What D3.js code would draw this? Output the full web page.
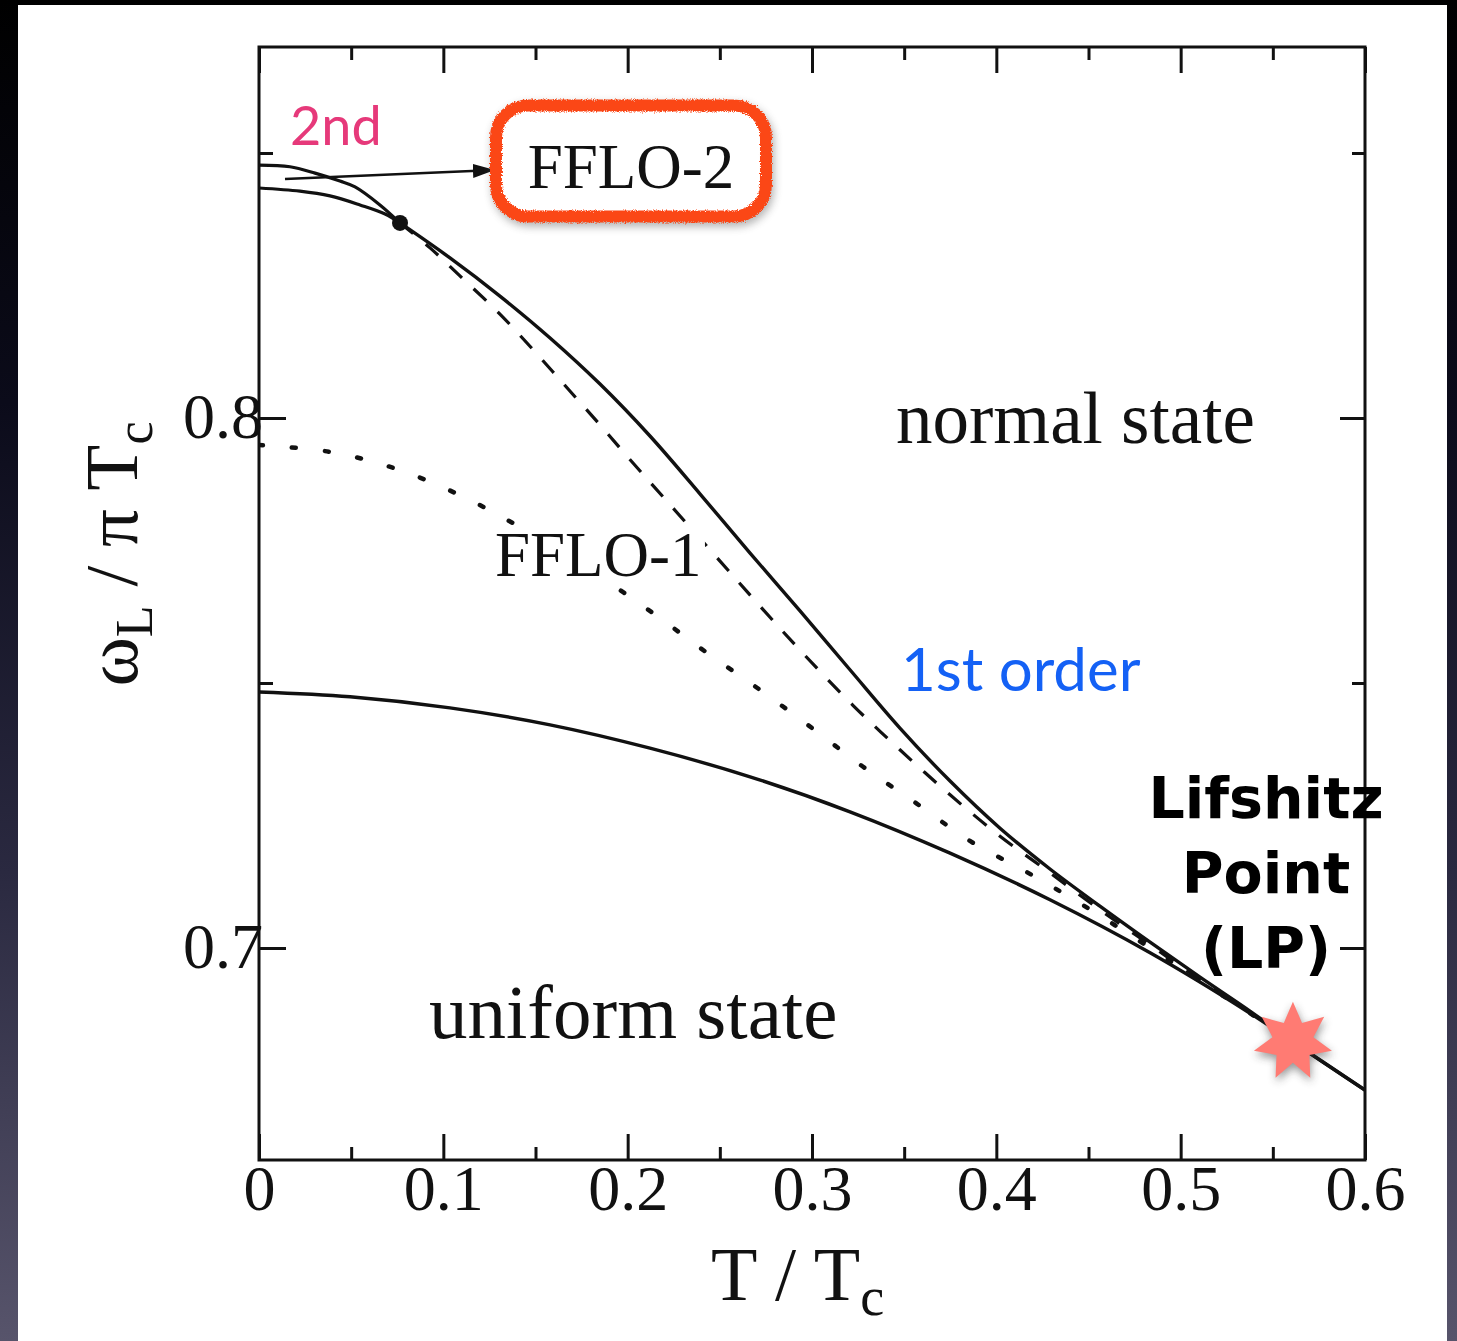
<!DOCTYPE html>
<html>
<head>
<meta charset="utf-8">
<script src="https://cdn.jsdelivr.net/npm/d3@7"></script>
<style>
  html, body { margin: 0; padding: 0; background: #000; overflow: hidden; }
  svg { display: block; }
</style>
</head>
<body>
<svg id="chart" width="1457" height="1341"></svg>
<script>
// ---- axes ----
const xDomain = [0, 0.6];
const yDomain = [0.66, 0.87];
const xTicksMajor = [0, 0.1, 0.2, 0.3, 0.4, 0.5, 0.6];
const xTickLabels = ["0", "0.1", "0.2", "0.3", "0.4", "0.5", "0.6"];
const xTicksMinor = [0.05, 0.15, 0.25, 0.35, 0.45, 0.55];
const yTicksMajor = [0.7, 0.8];
const yTickLabels = ["0.7", "0.8"];
const yTicksMinor = [0.75, 0.85];

// ---- phase boundaries, T/Tc vs omega_L / (pi Tc) ----
// FFLO-2 / normal (2nd order), from T = 0 to the multicritical dot
const ffloTwoUpperT = [0, 0.0168, 0.0304, 0.0439, 0.0521, 0.0656, 0.0765];
const ffloTwoUpperW = [0.8477, 0.8474, 0.8462, 0.8447, 0.8436, 0.8402, 0.8368];
// FFLO-2 / FFLO-1
const ffloTwoLowerT = [0, 0.0222, 0.0385, 0.0548, 0.0684, 0.0765];
const ffloTwoLowerW = [0.8434, 0.8428, 0.8419, 0.8402, 0.8385, 0.8368];
// FFLO-1 / normal (1st order), from the dot past the Lifshitz point
const firstOrderT = [0.0765, 0.1036, 0.1307, 0.1579, 0.1850, 0.2121, 0.2392, 0.2664, 0.2935, 0.3206,
                     0.3477, 0.3749, 0.4020, 0.4291, 0.4562, 0.4834, 0.5105, 0.5376, 0.5609, 0.6000];
const firstOrderW = [0.8368, 0.8302, 0.8230, 0.8151, 0.8064, 0.7966, 0.7857, 0.7745, 0.7636, 0.7525,
                     0.7415, 0.7315, 0.7226, 0.7149, 0.7079, 0.7011, 0.6945, 0.6881, 0.6823, 0.6732];
// dashed boundary
const dashedT = [0.0765, 0.0928, 0.1090, 0.1307, 0.1497, 0.1671, 0.1850, 0.2029, 0.2213, 0.2501, 0.2718,
                 0.2935, 0.3222, 0.3477, 0.3749, 0.4020, 0.4291, 0.4562, 0.4834, 0.5105, 0.5376, 0.5609];
const dashedW = [0.8368, 0.8321, 0.8268, 0.8196, 0.8125, 0.8057, 0.7987, 0.7915, 0.7843, 0.7730, 0.7645,
                 0.7562, 0.7458, 0.7374, 0.7289, 0.7211, 0.7142, 0.7072, 0.7006, 0.6940, 0.6879, 0.6823];
// dotted boundary
const dottedT = [0, 0.0385, 0.0727, 0.1074, 0.1416, 0.1796, 0.2137, 0.2430, 0.2718, 0.3000,
                 0.3277, 0.3570, 0.3857, 0.4166, 0.4470, 0.4834, 0.5105, 0.5376, 0.5609];
const dottedW = [0.7949, 0.7936, 0.7906, 0.7857, 0.7794, 0.7713, 0.7632, 0.7557, 0.7487, 0.7415,
                 0.7342, 0.7272, 0.7202, 0.7143, 0.7081, 0.7000, 0.6938, 0.6877, 0.6823];
// uniform state / FFLO-1
const uniformT = [0, 0.0494, 0.1036, 0.1579, 0.2121, 0.2664, 0.3206, 0.3749, 0.4291, 0.4834, 0.5376,
                  0.5609, 0.6000];
const uniformW = [0.7483, 0.7474, 0.7453, 0.7421, 0.7377, 0.7323, 0.7257, 0.7179, 0.7091, 0.6991, 0.6877,
                  0.6823, 0.6732];

// special points
const multicritical = [0.0765, 0.8368];
const lifshitzPoint = [0.5609, 0.6823];

// annotation anchors (data coordinates)
const arrowFrom = [0.0141, 0.8451];
const arrowTo = [0.1280, 0.8468];

const svg = d3.select("#chart");
const W = 1457, H = 1341;
const frame = { left: 259, right: 1365, top: 47, bottom: 1160 };

const x = d3.scaleLinear().domain(xDomain).range([frame.left, frame.right]);
const y = d3.scaleLinear().domain(yDomain).range([frame.bottom, frame.top]);

const defs = svg.append("defs");
const bg = defs.append("linearGradient").attr("id", "bg").attr("x1", 0).attr("y1", 0).attr("x2", 0).attr("y2", 1);
bg.append("stop").attr("offset", "0%").attr("stop-color", "#000000");
bg.append("stop").attr("offset", "30%").attr("stop-color", "#0b0b1a");
bg.append("stop").attr("offset", "65%").attr("stop-color", "#2a2940");
bg.append("stop").attr("offset", "100%").attr("stop-color", "#57546b");

defs.append("clipPath").attr("id", "plotClip").append("rect")
  .attr("x", frame.left).attr("y", frame.top)
  .attr("width", frame.right - frame.left).attr("height", frame.bottom - frame.top);

const blur = defs.append("filter").attr("id", "soft").attr("x", "-30%").attr("y", "-30%").attr("width", "160%").attr("height", "160%");
blur.append("feGaussianBlur").attr("stdDeviation", 4);

const rough = defs.append("filter").attr("id", "rough").attr("x", "-10%").attr("y", "-20%").attr("width", "120%").attr("height", "140%");
rough.append("feTurbulence").attr("type", "fractalNoise").attr("baseFrequency", 0.9).attr("numOctaves", 2).attr("seed", 4).attr("result", "noise");
rough.append("feDisplacementMap").attr("in", "SourceGraphic").attr("in2", "noise").attr("scale", 5)
  .attr("xChannelSelector", "R").attr("yChannelSelector", "G");

defs.append("marker").attr("id", "arrowHead")
  .attr("viewBox", "0 0 22 14").attr("refX", 22).attr("refY", 7)
  .attr("markerWidth", 22).attr("markerHeight", 14).attr("markerUnits", "userSpaceOnUse")
  .attr("orient", "auto")
  .append("path").attr("d", "M0,0 L22,7 L0,14 Z").attr("fill", "#111");

// page background and white slide panel
svg.append("rect").attr("width", W).attr("height", H).attr("fill", "url(#bg)");
svg.append("rect").attr("x", 18).attr("y", 5).attr("width", 1429).attr("height", H).attr("fill", "#ffffff");

const serif = "'Liberation Serif', 'Times New Roman', serif";
const ink = "#111";

// ---- curves ----
const zip = (ts, ws) => ts.map((t, i) => [t, ws[i]]);
const line = d3.line().x(d => x(d[0])).y(d => y(d[1])).curve(d3.curveCatmullRom.alpha(0.5));

const curves = svg.append("g").attr("clip-path", "url(#plotClip)").attr("fill", "none").attr("stroke", ink);

curves.append("path").attr("d", line(zip(dottedT, dottedW)))
  .attr("stroke-width", 4.5).attr("stroke-linecap", "round").attr("stroke-dasharray", "4 29");
curves.append("path").attr("d", line(zip(dashedT, dashedW)))
  .attr("stroke-width", 3.2).attr("stroke-dasharray", "17 16");
curves.append("path").attr("d", line(zip(uniformT, uniformW))).attr("stroke-width", 3.4);
curves.append("path").attr("d", line(zip(firstOrderT, firstOrderW))).attr("stroke-width", 3.4);
curves.append("path").attr("d", line(zip(ffloTwoUpperT, ffloTwoUpperW))).attr("stroke-width", 3.2);
curves.append("path").attr("d", line(zip(ffloTwoLowerT, ffloTwoLowerW))).attr("stroke-width", 3.2);

svg.append("circle").attr("cx", x(multicritical[0])).attr("cy", y(multicritical[1])).attr("r", 8).attr("fill", ink);

// ---- frame and ticks ----
svg.append("rect")
  .attr("x", frame.left).attr("y", frame.top)
  .attr("width", frame.right - frame.left).attr("height", frame.bottom - frame.top)
  .attr("fill", "none").attr("stroke", ink).attr("stroke-width", 3);

function styleAxis(g) {
  g.select(".domain").remove();
  g.selectAll(".tick line").attr("stroke", ink).attr("stroke-width", 3);
}

const bottomMajor = svg.append("g").attr("transform", `translate(0,${frame.bottom})`)
  .call(d3.axisBottom(x).tickValues(xTicksMajor).tickSizeInner(-26).tickSizeOuter(0)
    .tickFormat((d, i) => xTickLabels[i]));
styleAxis(bottomMajor);
bottomMajor.selectAll(".tick text")
  .attr("y", 50).attr("dy", 0)
  .attr("font-family", serif).attr("font-size", 64).attr("fill", ink);
svg.append("g").attr("transform", `translate(0,${frame.bottom})`)
  .call(d3.axisBottom(x).tickValues(xTicksMinor).tickSizeInner(-13).tickSizeOuter(0).tickFormat(""))
  .call(styleAxis);

svg.append("g").attr("transform", `translate(0,${frame.top})`)
  .call(d3.axisTop(x).tickValues(xTicksMajor).tickSizeInner(-26).tickSizeOuter(0).tickFormat(""))
  .call(styleAxis);
svg.append("g").attr("transform", `translate(0,${frame.top})`)
  .call(d3.axisTop(x).tickValues(xTicksMinor).tickSizeInner(-13).tickSizeOuter(0).tickFormat(""))
  .call(styleAxis);

const leftMajor = svg.append("g").attr("transform", `translate(${frame.left},0)`)
  .call(d3.axisLeft(y).tickValues(yTicksMajor).tickSizeInner(-27).tickSizeOuter(0)
    .tickFormat((d, i) => yTickLabels[i]));
styleAxis(leftMajor);
leftMajor.selectAll(".tick text")
  .attr("x", 4).attr("dy", "0.3em")
  .attr("font-family", serif).attr("font-size", 64).attr("fill", ink);
svg.append("g").attr("transform", `translate(${frame.left},0)`)
  .call(d3.axisLeft(y).tickValues(yTicksMinor).tickSizeInner(-14).tickSizeOuter(0).tickFormat(""))
  .call(styleAxis);

svg.append("g").attr("transform", `translate(${frame.right},0)`)
  .call(d3.axisRight(y).tickValues(yTicksMajor).tickSizeInner(-25).tickSizeOuter(0).tickFormat(""))
  .call(styleAxis);
svg.append("g").attr("transform", `translate(${frame.right},0)`)
  .call(d3.axisRight(y).tickValues(yTicksMinor).tickSizeInner(-13).tickSizeOuter(0).tickFormat(""))
  .call(styleAxis);

// ---- axis titles ----
const xt = svg.append("text").attr("x", 711).attr("y", 1300)
  .attr("font-family", serif).attr("font-size", 76).attr("fill", ink);
xt.append("tspan").text("T / T");
xt.append("tspan").attr("dy", 15).attr("font-size", 54).text("c");

const yt = svg.append("text").attr("transform", "translate(137,554) rotate(-90)")
  .attr("text-anchor", "middle")
  .attr("font-family", serif).attr("font-size", 75).attr("fill", ink);
yt.append("tspan").text("\u03c9");
yt.append("tspan").attr("dy", 15).attr("font-size", 52).text("L");
yt.append("tspan").attr("dy", -15).text(" / \u03c0 T");
yt.append("tspan").attr("dy", 15).attr("font-size", 52).text("c");

// ---- region labels ----
svg.append("text").attr("x", x(0.3456)).attr("y", y(0.7953))
  .attr("font-family", serif).attr("font-size", 73).attr("fill", ink).text("normal state");
svg.append("text").attr("x", x(0.0922)).attr("y", y(0.6830))
  .attr("font-family", serif).attr("font-size", 77).attr("fill", ink).text("uniform state");

// FFLO-1 label sits on a white patch that interrupts the curves behind it
svg.append("rect").attr("x", x(0.1280) - 5).attr("y", y(0.7702) - 50).attr("width", 215).attr("height", 62)
  .attr("fill", "#fff");
svg.append("text").attr("x", x(0.1280)).attr("y", y(0.7702))
  .attr("font-family", serif).attr("font-size", 63).attr("fill", ink).text("FFLO-1");

// FFLO-2 callout with arrow
svg.append("line")
  .attr("x1", x(arrowFrom[0])).attr("y1", y(arrowFrom[1]))
  .attr("x2", x(arrowTo[0])).attr("y2", y(arrowTo[1]))
  .attr("stroke", ink).attr("stroke-width", 2.6).attr("marker-end", "url(#arrowHead)");

const boxCx = x(0.2018), boxCy = y(0.8485), boxW = 270, boxH = 111;
svg.append("rect")
  .attr("x", boxCx - boxW / 2 + 2).attr("y", boxCy - boxH / 2 + 4).attr("width", boxW).attr("height", boxH)
  .attr("rx", 32).attr("fill", "none").attr("stroke", "#555").attr("stroke-width", 12)
  .attr("opacity", 0.45).attr("filter", "url(#soft)");
svg.append("rect")
  .attr("x", boxCx - boxW / 2).attr("y", boxCy - boxH / 2).attr("width", boxW).attr("height", boxH)
  .attr("rx", 32).attr("fill", "#fff").attr("stroke", "#fb4718").attr("stroke-width", 12)
  .attr("filter", "url(#rough)");
svg.append("text").attr("x", boxCx).attr("y", y(0.8434))
  .attr("text-anchor", "middle")
  .attr("font-family", serif).attr("font-size", 63).attr("fill", ink).text("FFLO-2");

// coloured annotations
svg.append("text").attr("x", x(0.0168)).attr("y", y(0.8515))
  .attr("font-family", "Lato, 'Open Sans', sans-serif").attr("font-size", 54).attr("fill", "#e6397a").text("2nd");
svg.append("text").attr("x", x(0.3483)).attr("y", y(0.7485))
  .attr("font-family", "Lato, 'Open Sans', sans-serif").attr("font-size", 60).attr("fill", "#1461f5").text("1st order");

const lp = svg.append("text").attr("text-anchor", "middle")
  .attr("font-family", "'DejaVu Sans', sans-serif").attr("font-weight", "bold")
  .attr("font-size", 57).attr("fill", "#000");
[["Lifshitz", 0.7245], ["Point", 0.7104], ["(LP)", 0.6962]].forEach(([s, w]) => {
  lp.append("tspan").attr("x", x(0.5463)).attr("y", y(w)).text(s);
});

// Lifshitz point star
const starPts = d3.range(14).map(k => {
  const a = -Math.PI / 2 + k * Math.PI / 7;
  const r = k % 2 === 0 ? 40 : 21;
  return [r * Math.cos(a), r * Math.sin(a)];
});
const starPath = "M" + starPts.map(p => p.join(",")).join("L") + "Z";
svg.append("path").attr("d", starPath)
  .attr("transform", `translate(${x(lifshitzPoint[0]) + 1},${y(lifshitzPoint[1]) + 4})`)
  .attr("fill", "#333").attr("opacity", 0.5).attr("filter", "url(#soft)");
svg.append("path").attr("d", starPath)
  .attr("transform", `translate(${x(lifshitzPoint[0])},${y(lifshitzPoint[1])})`)
  .attr("fill", "#ff7b73");
</script>
</body>
</html>
